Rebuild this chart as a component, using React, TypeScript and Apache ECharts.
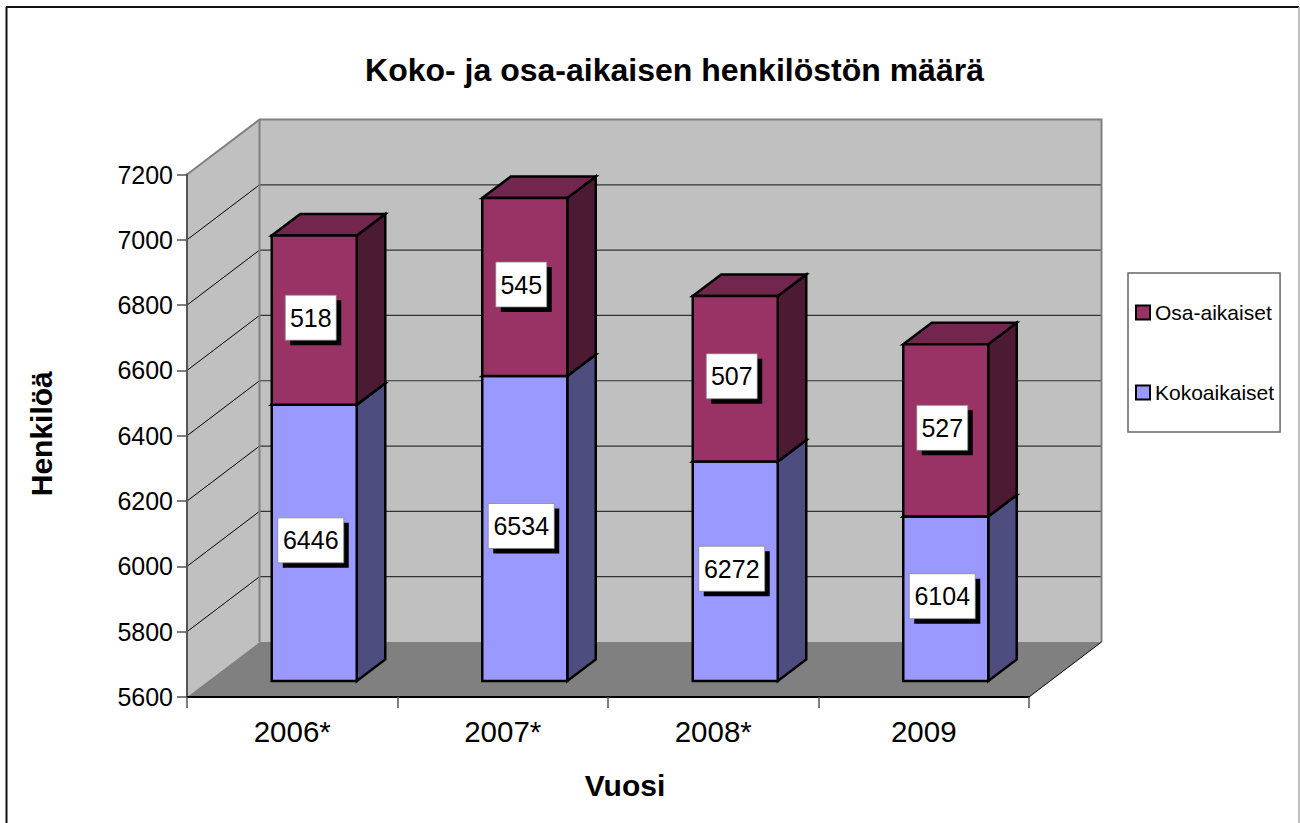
import React, { useEffect, useRef } from "react";
import * as echarts from "echarts";

const categories = ["2006*", "2007*", "2008*", "2009"];
const kokoaikaiset = [6446, 6534, 6272, 6104];
const osaaikaiset = [518, 545, 507, 527];
const gridTicks = [5800, 6000, 6200, 6400, 6600, 6800, 7000];

const FONT = '"Liberation Sans", Arial, sans-serif';
const WALL_DX = 72.5;
const WALL_DY = -55;
const BAR_W = 85;
const BAR_DX = 28.5;
const BAR_DY = -21.5;
const FRONT_DX = 22;
const FRONT_DY = -16;

function renderWalls(params: any, api: any) {
  const cs = params.coordSys;
  const L = cs.x, R = cs.x + cs.width, T = cs.y, B = cs.y + cs.height;
  const children: any[] = [
    { type: "polygon", shape: { points: [[L, T], [L + WALL_DX, T + WALL_DY], [L + WALL_DX, B + WALL_DY], [L, B]] }, style: { fill: "#c0c0c0", stroke: "none" } },
    { type: "rect", shape: { x: L + WALL_DX, y: T + WALL_DY, width: R - L, height: B - T }, style: { fill: "#c0c0c0", stroke: "none" } },
    { type: "polygon", shape: { points: [[L, B], [L + WALL_DX, B + WALL_DY], [R + WALL_DX, B + WALL_DY], [R, B]] }, style: { fill: "#808080", stroke: "none" } },
  ];
  gridTicks.forEach((t) => {
    const y = api.coord([0, t])[1];
    children.push({ type: "line", shape: { x1: L, y1: y, x2: L + WALL_DX, y2: y + WALL_DY }, style: { stroke: "#000", lineWidth: 1 } });
    children.push({ type: "line", shape: { x1: L + WALL_DX, y1: y + WALL_DY, x2: R + WALL_DX, y2: y + WALL_DY }, style: { stroke: "#333", lineWidth: 1.2 } });
  });
  children.push({
    type: "polyline",
    shape: { points: [[L, T], [L + WALL_DX, T + WALL_DY], [R + WALL_DX, T + WALL_DY], [R + WALL_DX, B + WALL_DY]] },
    style: { fill: "none", stroke: "#808080", lineWidth: 2 },
  });
  children.push({ type: "line", shape: { x1: L + WALL_DX, y1: T + WALL_DY, x2: L + WALL_DX, y2: B + WALL_DY }, style: { stroke: "#808080", lineWidth: 2 } });
  children.push({ type: "line", shape: { x1: R, y1: B, x2: R + WALL_DX, y2: B + WALL_DY }, style: { stroke: "#000", lineWidth: 1 } });
  return { type: "group", children };
}

function makeRenderBar(front: string, side: string, top: string) {
  return (_params: any, api: any) => {
    const cat = api.value(0);
    const p0 = api.coord([cat, api.value(1)]);
    const p1 = api.coord([cat, api.value(2)]);
    const cx = p0[0] + FRONT_DX;
    const x0 = cx - BAR_W / 2, x1 = cx + BAR_W / 2;
    const yb = p0[1] + FRONT_DY, yt = p1[1] + FRONT_DY;
    const s = { stroke: "#000", lineWidth: 2.5, lineJoin: "miter" };
    return {
      type: "group",
      children: [
        { type: "polygon", shape: { points: [[x1, yt], [x1 + BAR_DX, yt + BAR_DY], [x1 + BAR_DX, yb + BAR_DY], [x1, yb]] }, style: { fill: side, ...s } },
        { type: "polygon", shape: { points: [[x0, yt], [x0 + BAR_DX, yt + BAR_DY], [x1 + BAR_DX, yt + BAR_DY], [x1, yt]] }, style: { fill: top, ...s } },
        { type: "rect", shape: { x: x0, y: yt, width: BAR_W, height: yb - yt }, style: { fill: front, ...s } },
      ],
    };
  };
}

function makeRenderLabel() {
  return (_params: any, api: any) => {
    const cat = api.value(0);
    const p0 = api.coord([cat, api.value(1)]);
    const p1 = api.coord([cat, api.value(2)]);
    const text = String(api.value(3));
    const w = text.length > 3 ? 66 : 51;
    const h = 45;
    const cx = p0[0] + FRONT_DX - 3.5;
    const cy = (p0[1] + p1[1]) / 2 + FRONT_DY - 2.5;
    return {
      type: "group",
      children: [
        { type: "rect", shape: { x: cx - w / 2 + 5, y: cy - h / 2 + 5, width: w, height: h }, style: { fill: "#000", stroke: "none" } },
        { type: "rect", shape: { x: cx - w / 2, y: cy - h / 2, width: w, height: h }, style: { fill: "#fff", stroke: "#808080", lineWidth: 0.7 } },
        { type: "text", x: cx, y: cy, style: { text, fill: "#000", font: `25px ${FONT}`, align: "center", verticalAlign: "middle" } },
      ],
    };
  };
}

export default function App() {
  const ref = useRef<HTMLDivElement>(null);
  useEffect(() => {
    document.body.style.margin = "0";
    const chart = echarts.init(ref.current!, null, { renderer: "svg" });
    const bases = kokoaikaiset;
    const totals = kokoaikaiset.map((v, i) => v + osaaikaiset[i]);
    const kokoData = categories.map((_, i) => [i, 5600, kokoaikaiset[i], kokoaikaiset[i]]);
    const osaData = categories.map((_, i) => [i, bases[i], totals[i], osaaikaiset[i]]);
    chart.setOption({
      animation: false,
      backgroundColor: "#fff",
      title: {
        text: "Koko- ja osa-aikaisen henkilöstön määrä",
        left: 669.5,
        top: 49,
        textAlign: "center",
        textStyle: { fontFamily: FONT, fontWeight: "bold", fontSize: 32, color: "#000" },
      },
      grid: { left: 187, top: 174.5, width: 842, height: 522.5, containLabel: false },
      legend: {
        left: 1128,
        top: 273,
        orient: "vertical",
        padding: [29, 6, 29, 7],
        itemGap: 59,
        itemWidth: 14,
        itemHeight: 14,
        borderColor: "#666",
        borderWidth: 1.5,
        backgroundColor: "#fff",
        icon: "rect",
        data: [
          { name: "Osa-aikaiset", itemStyle: { color: "#993366", borderColor: "#000", borderWidth: 2 } },
          { name: "Kokoaikaiset", itemStyle: { color: "#9999ff", borderColor: "#000", borderWidth: 2 } },
        ],
        textStyle: { fontFamily: FONT, fontSize: 21, color: "#000", padding: [0, 0, 0, 0] },
      },
      xAxis: {
        type: "category",
        data: categories,
        z: 5,
        name: "Vuosi",
        nameLocation: "middle",
        nameGap: 73,
        nameTextStyle: { fontFamily: FONT, fontWeight: "bold", fontSize: 30, color: "#000", padding: [0, 0, 0, 34] },
        axisLine: { show: true, lineStyle: { color: "#000", width: 2 } },
        axisTick: { show: true, length: 11, alignWithLabel: false, lineStyle: { color: "#555", width: 1.5 } },
        axisLabel: { fontFamily: FONT, fontSize: 29.5, color: "#000", margin: 19 },
        splitLine: { show: false },
      },
      yAxis: {
        type: "value",
        min: 5600,
        max: 7200,
        interval: 200,
        z: 5,
        name: "Henkilöä",
        nameLocation: "middle",
        nameGap: 131,
        nameRotate: 90,
        nameTextStyle: { fontFamily: FONT, fontWeight: "bold", fontSize: 30, color: "#000", padding: [0, 0, 0, 4] },
        axisLine: { show: true, lineStyle: { color: "#555", width: 2 } },
        axisTick: { show: true, length: 10, lineStyle: { color: "#555", width: 1.5 } },
        axisLabel: { fontFamily: FONT, fontSize: 25, color: "#000", margin: 14, padding: [2, 0, 0, 0], formatter: (v: number) => String(v) },
        splitLine: { show: false },
      },
      graphic: [
        { type: "line", silent: true, z: -10, shape: { x1: 6.5, y1: 7, x2: 6.5, y2: 823 }, style: { stroke: "#111", lineWidth: 2 } },
        { type: "line", silent: true, z: -10, shape: { x1: 6, y1: 7, x2: 1299, y2: 7 }, style: { stroke: "#111", lineWidth: 2 } },
        { type: "line", silent: true, z: -10, shape: { x1: 1299, y1: 7, x2: 1299, y2: 823 }, style: { stroke: "#aaa", lineWidth: 1.5 } },
      ],
      series: [
        { type: "custom", name: "walls", silent: true, z: 1, clip: false, data: [[0]], renderItem: renderWalls, encode: { x: 0 }, legendHoverLink: false },
        { type: "custom", name: "Kokoaikaiset", z: 3, clip: false, data: kokoData, renderItem: makeRenderBar("#9999ff", "#4d4d80", "#7373bf"), encode: { x: 0, y: [1, 2] }, itemStyle: { color: "#9999ff" } },
        { type: "custom", name: "Osa-aikaiset", z: 3, clip: false, data: osaData, renderItem: makeRenderBar("#993366", "#4d1a33", "#73264d"), encode: { x: 0, y: [1, 2] }, itemStyle: { color: "#993366" } },
        { type: "custom", name: "labels-koko", silent: true, z: 4, clip: false, data: kokoData, renderItem: makeRenderLabel(), encode: { x: 0, y: [1, 2] } },
        { type: "custom", name: "labels-osa", silent: true, z: 4, clip: false, data: osaData, renderItem: makeRenderLabel(), encode: { x: 0, y: [1, 2] } },
      ],
    });
    return () => chart.dispose();
  }, []);
  return <div ref={ref} style={{ width: 1300, height: 823 }} />;
}
